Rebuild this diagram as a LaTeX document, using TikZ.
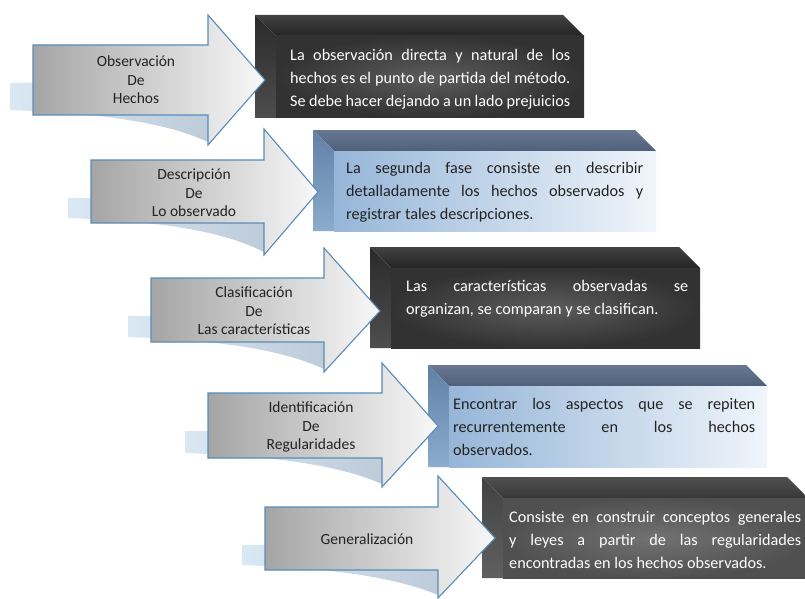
\documentclass[tikz,border=0pt]{standalone}
\usepackage{fontspec}
\setmainfont{Carlito}
\definecolor{arrline}{RGB}{88,140,185}
\definecolor{arrL}{RGB}{165,165,165}
\definecolor{arrR}{RGB}{248,248,248}
\definecolor{shL}{RGB}{218,232,244}
\definecolor{shR}{RGB}{190,204,218}
\definecolor{dkTa}{RGB}{66,66,66}
\definecolor{dkTb}{RGB}{36,36,36}
\definecolor{dkSa}{RGB}{42,42,42}
\definecolor{dkSb}{RGB}{78,78,78}
\definecolor{dkFi}{RGB}{92,92,92}
\definecolor{dkFo}{RGB}{50,50,50}
\definecolor{gyTa}{RGB}{80,80,80}
\definecolor{gyTb}{RGB}{56,56,56}
\definecolor{gySa}{RGB}{66,66,66}
\definecolor{gySb}{RGB}{96,96,96}
\definecolor{gyFi}{RGB}{114,114,114}
\definecolor{gyFo}{RGB}{80,80,80}
\definecolor{blTa}{RGB}{104,120,146}
\definecolor{blTb}{RGB}{80,96,122}
\definecolor{blSa}{RGB}{96,128,166}
\definecolor{blSb}{RGB}{140,172,206}
\definecolor{blFl}{RGB}{150,182,216}
\definecolor{blFr}{RGB}{240,245,251}
\definecolor{txtdark}{RGB}{35,35,35}
\newcommand\procArrow[8]{%
  \shade[left color=shL, right color=shR] ({#1-23},{#2+38}) -- (#4,{#2+38}) -- (#4,{#6-3}) .. controls ({#4-45},{#3+6}) and ({#1+60},{#3-2}) .. ({#1-23},{#3-5}) -- cycle;
  \path[draw=arrline, line width=1.1pt, line join=miter, left color=arrL, right color=arrR] (#1,#2) -- (#4,#2) -- (#4,#5) -- (#7,#8) -- (#4,#6) -- (#4,#3) -- (#1,#3) -- cycle;
}
\newcommand\procBox[5]{%
  \path[#5top] (#1,#2) -- ({#3-21},#2) -- (#3,{#2+21}) -- ({#1+21},{#2+21}) -- cycle;
  \path[#5side] (#1,#2) -- ({#1+21},{#2+21}) -- ({#1+21},#4) -- (#1,#4) -- cycle;
  \path[#5front] ({#1+21},{#2+21}) rectangle (#3,#4);
}
\begin{document}
\begin{tikzpicture}[x=1pt,y=-1pt,
  arrtext/.style={align=center, text=txtdark, font=\fontsize{15.5}{18.5}\selectfont, inner sep=0pt},
  boxtext/.style={align=left, font=\fontsize{16.2}{23}\selectfont, inner sep=0pt, anchor=west},
  darktop/.style={top color=dkTa, bottom color=dkTb},
  darkside/.style={top color=dkSa, bottom color=dkSb},
  darkfront/.style={inner color=dkFi, outer color=dkFo},
  graytop/.style={top color=gyTa, bottom color=gyTb},
  grayside/.style={top color=gySa, bottom color=gySb},
  grayfront/.style={inner color=gyFi, outer color=gyFo},
  bluetop/.style={top color=blTa, bottom color=blTb},
  blueside/.style={top color=blSa, bottom color=blSb},
  bluefront/.style={left color=blFl, right color=blFr}
]
\useasboundingbox (0,0) rectangle (805,599);
\fill[white] (0,0) rectangle (805,599);

% row 1
\procBox{255}{15}{584}{118}{dark}
\procArrow{33}{45}{115}{208}{15}{145}{265}{80}
% row 2
\procBox{313}{130}{656}{231}{blue}
\procArrow{91}{160}{223}{264}{129}{255}{318}{192}
% row 3
\procBox{370}{247}{700}{348}{dark}
\procArrow{151}{278}{342}{324}{248}{372}{380}{311}
% row 4
\procBox{428}{365}{767}{467}{blue}
\procArrow{208}{393}{458}{382}{363}{487}{438}{426}
% row 5
\procBox{482}{477}{808}{578}{gray}
\procArrow{265}{507}{570}{438}{476}{598}{495}{538}

% arrow texts
\node[arrtext] (a1) at (136,80) {Observación\\De\\Hechos};
\node[arrtext] (a2) at (194,193) {Descripción\\De\\Lo observado};
\node[arrtext] (a3) at (254,311) {Clasificación\\De\\Las características};
\node[arrtext] (a4) at (311,427) {Identificación\\De\\Regularidades};
\node[arrtext] (a5) at (367,539) {Generalización};

% box texts
\node[boxtext, text=white] (d1) at (290,79) {\makebox[280pt][s]{La observación directa y natural de los}\\\makebox[280pt][s]{hechos es el punto de partida del método.}\\\makebox[280pt][s]{Se debe hacer dejando a un lado prejuicios}};
\node[boxtext, text=txtdark] (d2) at (346,192) {\makebox[297pt][s]{La segunda fase consiste en describir}\\\makebox[297pt][s]{detalladamente los hechos observados y}\\registrar tales descripciones.};
\node[boxtext, text=white] (d3) at (406,299) {\makebox[282pt][s]{Las características observadas se}\\organizan, se comparan y se clasifican.};
\node[boxtext, text=txtdark] (d4) at (453,427) {\makebox[302pt][s]{Encontrar los aspectos que se repiten}\\\makebox[302pt][s]{recurrentemente en los hechos}\\observados.};
\node[boxtext, text=white] (d5) at (509,540) {\makebox[292pt][s]{Consiste en construir conceptos generales}\\\makebox[292pt][s]{y leyes a partir de las regularidades}\\encontradas en los hechos observados.};
\end{tikzpicture}
\end{document}
